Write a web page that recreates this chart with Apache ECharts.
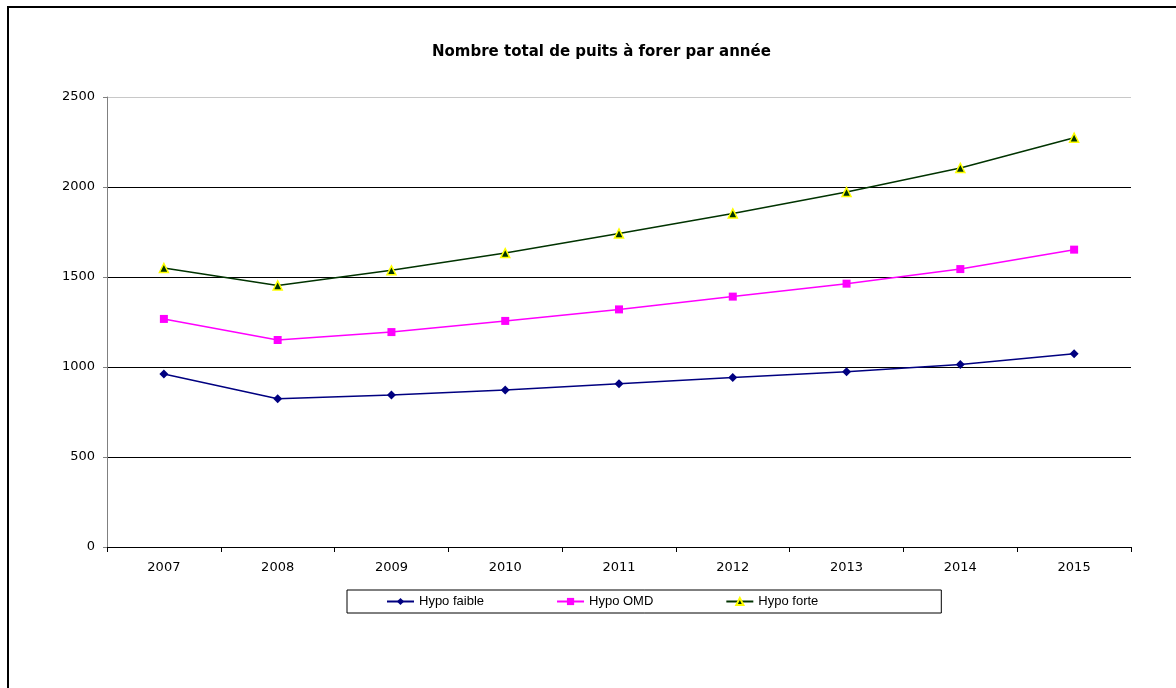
<!DOCTYPE html>
<html>
<head>
<meta charset="utf-8">
<script src="https://cdn.jsdelivr.net/npm/echarts@6/dist/echarts.min.js"></script>
<style>
  html, body { margin: 0; padding: 0; background: #fff; }
  #chart { width: 1176px; height: 688px; }
</style>
</head>
<body>
<div id="chart"></div>
<script>
// Années et nombre de puits par hypothèse
const years = ['2007', '2008', '2009', '2010', '2011', '2012', '2013', '2014', '2015'];
const hypoFaible = [961, 824, 844, 872, 907, 942, 974, 1014, 1074];
const hypoOMD = [1267, 1150, 1194, 1256, 1320, 1391, 1463, 1544, 1652];
const hypoForte = [1550, 1453, 1537, 1633, 1742, 1853, 1972, 2106, 2274];
const yTicks = [0, 500, 1000, 1500, 2000, 2500];

const FONT = 'Liberation Sans, Arial, sans-serif';
const WIDE = 'DejaVu Sans, Verdana, sans-serif';
const chart = echarts.init(document.getElementById('chart'), null, { renderer: 'canvas' });

chart.setOption({
  backgroundColor: '#ffffff',
  animation: false,
  graphic: [{
    type: 'rect',
    shape: { x: 8, y: 7, width: 1200, height: 720 },
    style: { fill: 'none', stroke: '#000', lineWidth: 2 },
    silent: true
  }],
  title: {
    text: 'Nombre total de puits à forer par année',
    left: 427,
    top: 40,
    textStyle: { fontFamily: WIDE, fontSize: 15, fontWeight: 'bold', color: '#000' }
  },
  grid: { left: 107, right: 45, top: 97, bottom: 141, containLabel: false },
  legend: {
    left: 347,
    top: 590,
    padding: [5, 123, 5, 39],
    itemGap: 72,
    itemWidth: 27,
    itemHeight: 9,
    borderColor: '#000',
    borderWidth: 1,
    textStyle: { fontFamily: FONT, fontSize: 13, color: '#000' },
    data: ['Hypo faible', 'Hypo OMD', 'Hypo forte']
  },
  xAxis: {
    type: 'category',
    data: years,
    boundaryGap: true,
    axisLine: { lineStyle: { color: '#000', width: 1 } },
    axisTick: { show: true, inside: false, length: 5, lineStyle: { color: '#000' } },
    axisLabel: { fontFamily: WIDE, fontSize: 13, color: '#000', margin: 14 },
    splitLine: { show: false }
  },
  yAxis: {
    type: 'value',
    min: yTicks[0],
    max: yTicks[yTicks.length - 1],
    interval: 500,
    axisLine: { show: true, lineStyle: { color: '#808080', width: 1 } },
    axisTick: { show: true, length: 4, lineStyle: { color: '#808080' } },
    axisLabel: { fontFamily: WIDE, fontSize: 13, color: '#000', margin: 12, formatter: v => String(v) },
    splitLine: {
      show: true,
      lineStyle: { color: ['#000', '#000', '#000', '#000', '#000', '#c8c8c8'], width: 1 }
    }
  },
  series: [
    {
      name: 'Hypo faible',
      type: 'line',
      data: hypoFaible,
      symbol: 'diamond',
      symbolSize: 9,
      lineStyle: { color: '#000080', width: 1.5 },
      itemStyle: { color: '#000080' }
    },
    {
      name: 'Hypo OMD',
      type: 'line',
      data: hypoOMD,
      symbol: 'rect',
      symbolSize: 8,
      lineStyle: { color: '#ff00ff', width: 1.5 },
      itemStyle: { color: '#ff00ff' }
    },
    {
      name: 'Hypo forte',
      type: 'line',
      data: hypoForte,
      symbol: 'triangle',
      symbolSize: 9,
      lineStyle: { color: '#003300', width: 1.5 },
      itemStyle: { color: '#003300', borderColor: '#ffff00', borderWidth: 1.5 }
    }
  ]
});
</script>
</body>
</html>
